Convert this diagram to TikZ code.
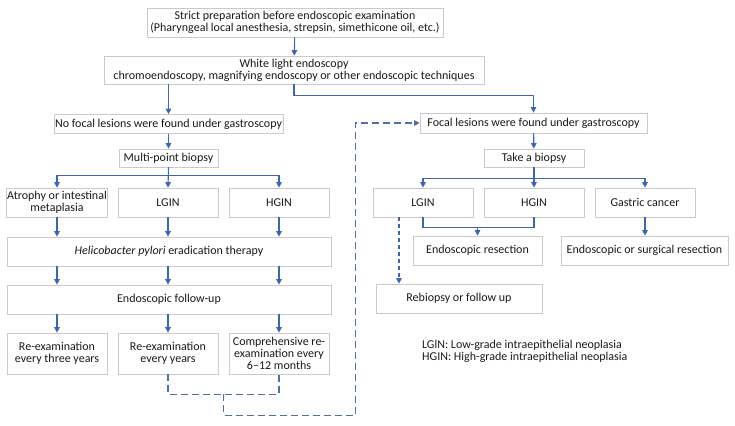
\documentclass[tikz,border=0pt]{standalone}
\usepackage{fontspec}
\setmainfont{Carlito}
\usetikzlibrary{arrows.meta,calc}
\definecolor{flow}{HTML}{3F64B0}
\definecolor{recall}{HTML}{4F6FA6}
\definecolor{frame}{HTML}{CACACA}
\definecolor{ink}{HTML}{1A1A1A}

\begin{document}
\begin{tikzpicture}[x=1pt,y=-1pt,
  every node/.style={font=\fontsize{12}{12}\selectfont,text=ink},
  box/.style={draw=frame,line width=0.7pt,fill=white,align=center,inner sep=1pt,minimum height=29pt},
  arr/.style={-{Triangle[length=5.5pt,width=5.5pt]},flow,line width=1.1pt},
  link/.style={flow,line width=1.1pt},
  dline/.style={recall,line width=1.1pt,dash pattern=on 7pt off 4pt},
]
  \useasboundingbox (0,0) rectangle (735,425);

  % top
  \node[box,minimum width=296pt] (prep) at (295,22.5) {Strict preparation before endoscopic examination\\(Pharyngeal local anesthesia, strepsin, simethicone oil, etc.)};
  \node[box,minimum width=380pt,minimum height=28pt] (wle) at (294,70) {White light endoscopy\\chromoendoscopy, magnifying endoscopy or other endoscopic techniques};
  \draw[arr] (prep) -- (wle);

  % no focal lesions
  \node[box,minimum width=229pt,minimum height=19pt] (nofocal) at (168.5,124) {No focal lesions were found under gastroscopy};
  \node[box,minimum width=99pt,minimum height=18pt] (multi) at (168.5,158) {Multi-point biopsy};
  \node[box,minimum width=100pt] (atrophy) at (57,202.5) {Atrophy or intestinal\\metaplasia};
  \node[box,minimum width=100pt] (lgin) at (168,202.5) {LGIN};
  \node[box,minimum width=100pt] (hgin) at (279,202.5) {HGIN};
  \node[box,minimum width=324pt] (hp) at (169,251.5) {\textit{Helicobacter pylori} eradication therapy};
  \node[box,minimum width=324pt] (fu) at (169,299.5) {Endoscopic follow-up};
  \node[box,minimum width=100pt,minimum height=41pt] (re1) at (57,353.5) {Re-examination\\every three years};
  \node[box,minimum width=100pt,minimum height=41pt] (re2) at (168,353.5) {Re-examination\\every years};
  \node[box,minimum width=100pt,minimum height=41pt] (re3) at (279,353.5) {Comprehensive re-\\examination every\\6--12 months};

  \draw[arr] (wle.south -| nofocal.north) -- (nofocal.north);
  \draw[arr] (nofocal) -- (multi);
  \draw[arr] (multi.south) -- ++(0,8) -| (atrophy.north);
  \draw[arr] (multi.south) -- (lgin.north);
  \draw[arr] (multi.south) -- ++(0,8) -| (hgin.north);
  \foreach \col in {atrophy,lgin,hgin}{
    \draw[arr] (\col.south) -- (\col.south |- hp.north);
    \draw[arr] (\col.south |- hp.south) -- (\col.south |- fu.north);
  }
  \draw[arr] (fu.south -| re1.north) -- (re1.north);
  \draw[arr] (fu.south -| re2.north) -- (re2.north);
  \draw[arr] (fu.south -| re3.north) -- (re3.north);

  % focal lesions
  \node[box,minimum width=227pt,minimum height=20pt] (focal) at (533.5,123) {Focal lesions were found under gastroscopy};
  \node[box,minimum width=100pt,minimum height=18pt] (take) at (534,158) {Take a biopsy};
  \node[box,minimum width=100pt] (lgin2) at (423,202.5) {LGIN};
  \node[box,minimum width=100pt] (hgin2) at (534,202.5) {HGIN};
  \node[box,minimum width=100pt] (gc) at (645,202.5) {Gastric cancer};
  \node[box,minimum width=129pt] (er) at (477.5,250.5) {Endoscopic resection};
  \node[box,minimum width=167pt] (esr) at (644.5,250.5) {Endoscopic or surgical resection};
  \node[box,minimum width=166pt] (rebi) at (459,298.5) {Rebiopsy or follow up};

  \draw[arr] (wle.south) -- ++(0,11) -| (focal.north);
  \draw[arr] (focal) -- (take);
  \draw[arr] (take.south) -- ++(0,11) -| (lgin2.north);
  \draw[arr] (take.south) -- (hgin2.north);
  \draw[arr] (take.south) -- ++(0,11) -| (gc.north);
  \draw[link] (lgin2.south) -- ++(0,10) -| (hgin2.south);
  \draw[arr] (er.north) ++(0,-9) -- (er.north);
  \draw[arr] (gc.south) -- (esr.north -| gc.south);
  \draw[arr,dash pattern=on 4pt off 3pt] ([xshift=-24pt]lgin2.south) -- ([xshift=-24pt]lgin2.south |- rebi.north);

  % recall from follow-up
  \draw[dline] (re2.south) -- ++(0,20) -| (re3.south);
  \coordinate (back) at ($(re2.south)!0.5!(re3.south)+(0,20)$);
  \draw[dline,-{Triangle[length=5.5pt,width=5.5pt]}] (back) -- ++(0,21) -- ++(132,0) |- (focal.west);

  % legend
  \node[anchor=north west,align=left,inner sep=0pt] (legend) at (422,340) {LGlN: Low-grade intraepithelial neoplasia\\HGIN: High-grade intraepithelial neoplasia};
\end{tikzpicture}
\end{document}
